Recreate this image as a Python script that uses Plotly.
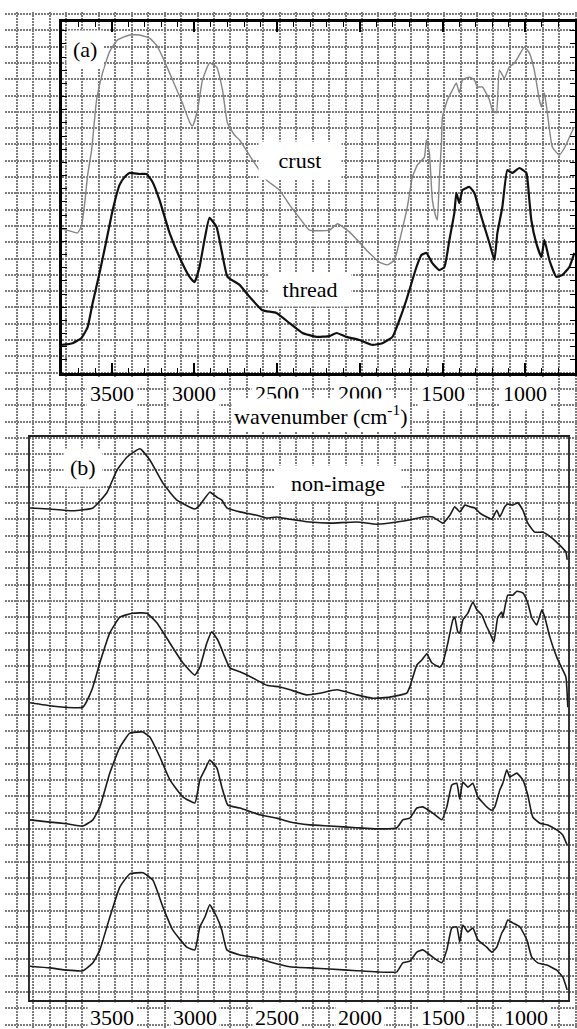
import plotly.graph_objects as go

# ---------------- Panel (a): crust and thread spectra ----------------
crust_wn = [3800, 3754, 3706, 3682, 3664, 3645, 3621, 3591, 3555, 3513,
            3464, 3392, 3331, 3271, 3229, 3192, 3132, 3072, 3029, 3011,
            2981, 2951, 2909, 2866, 2830, 2800, 2758, 2727, 2649, 2564,
            2486, 2425, 2365, 2305, 2184, 2135, 2063, 1960, 1882, 1834,
            1791, 1749, 1713, 1683, 1652, 1610, 1598, 1580, 1562, 1544,
            1532, 1520, 1507, 1501, 1471, 1441, 1417, 1399, 1380, 1338,
            1308, 1290, 1260, 1217, 1199, 1175, 1157, 1127, 1097, 1066,
            1036, 1006, 976, 946, 915, 903, 885, 867, 837, 795,
            764, 722, 704]
crust_t = [41.0, 40.5, 39.9, 41.9, 47.9, 56.4, 63.5, 77.8, 85.5, 91.5,
           94.9, 96.3, 96.3, 95.4, 93.4, 90.0, 83.5, 76.9, 71.5, 70.4,
           74.9, 83.5, 88.3, 87.2, 80.6, 71.2, 67.8, 66.4, 60.7, 55.0,
           52.1, 47.9, 44.2, 40.7, 40.7, 42.5, 40.2, 35.0, 31.6, 30.8,
           32.2, 39.9, 47.3, 55.8, 59.3, 61.5, 66.4, 62.7, 49.3, 45.0,
           43.6, 55.0, 65.5, 72.9, 77.8, 80.6, 82.6, 79.8, 83.5, 84.3,
           83.5, 81.5, 81.5, 77.8, 74.9, 74.1, 86.3, 84.0, 87.2, 88.3,
           90.6, 92.9, 91.2, 86.3, 77.8, 75.8, 79.8, 74.1, 64.4, 62.1,
           64.1, 68.4, 70.1]

thread_wn = [3800, 3736, 3682, 3645, 3615, 3573, 3531, 3494, 3452, 3422,
             3392, 3331, 3289, 3253, 3211, 3150, 3090, 3029, 2999, 2969,
             2939, 2909, 2866, 2836, 2800, 2727, 2667, 2589, 2504, 2425,
             2347, 2262, 2184, 2141, 2081, 2003, 1924, 1864, 1803, 1761,
             1719, 1658, 1628, 1598, 1562, 1520, 1489, 1459, 1429, 1417,
             1399, 1380, 1338, 1308, 1290, 1260, 1217, 1187, 1169, 1139,
             1109, 1079, 1036, 994, 976, 964, 934, 903, 885, 855,
             813, 777, 734, 704]
thread_t = [8.0, 8.5, 10.0, 13.1, 19.9, 28.5, 37.9, 46.4, 53.6, 55.8,
            57.0, 56.7, 56.7, 54.4, 49.3, 39.9, 33.0, 27.4, 25.9, 30.2,
            37.9, 44.2, 41.6, 35.0, 27.4, 25.1, 21.7, 17.9, 17.1, 14.2,
            11.4, 10.3, 10.5, 11.4, 10.3, 9.4, 8.0, 8.5, 10.3, 15.1,
            20.8, 30.2, 33.6, 34.2, 31.3, 29.3, 30.2, 37.9, 45.6, 51.3,
            48.4, 52.1, 53.0, 51.3, 48.4, 43.6, 37.0, 32.2, 39.9, 47.3,
            57.8, 57.0, 58.4, 57.0, 49.3, 43.6, 37.0, 33.0, 37.9, 32.2,
            27.4, 27.9, 30.2, 34.2]

# ---------------- Panel (b): four stacked spectra ----------------
b1_wn = [3995, 3875, 3736, 3615, 3531, 3470, 3410, 3331, 3271, 3192,
         3108, 2999, 2969, 2909, 2866, 2836, 2806, 2727, 2625, 2564,
         2504, 2425, 2305, 2184, 2021, 1900, 1779, 1683, 1622, 1562,
         1501, 1459, 1429, 1399, 1368, 1338, 1308, 1278, 1236, 1205,
         1175, 1157, 1127, 1109, 1079, 1048, 1018, 988, 946, 897,
         843, 795, 758, 750]
b1_t = [87.4, 87.2, 86.9, 87.4, 90.1, 94.1, 96.4, 97.9, 95.9, 91.8,
        88.8, 87.2, 87.9, 90.2, 89.3, 88.8, 87.4, 86.7, 86.1, 85.6,
        85.8, 85.4, 84.9, 84.7, 84.9, 84.5, 84.9, 85.4, 85.8, 85.8,
        84.7, 86.1, 87.6, 86.7, 87.9, 87.6, 87.4, 86.5, 85.8, 85.4,
        87.0, 85.8, 87.6, 88.1, 87.9, 88.3, 87.0, 84.7, 83.1, 83.1,
        82.1, 80.8, 79.6, 78.2]

b2_wn = [3995, 3857, 3676, 3621, 3573, 3513, 3452, 3374, 3289, 3229,
         3150, 3072, 2999, 2969, 2927, 2897, 2860, 2818, 2788, 2727,
         2649, 2564, 2486, 2425, 2323, 2244, 2141, 2021, 1924, 1821,
         1719, 1701, 1658, 1628, 1598, 1568, 1520, 1501, 1471, 1441,
         1429, 1411, 1399, 1380, 1350, 1320, 1296, 1266, 1236, 1217,
         1193, 1169, 1145, 1139, 1109, 1079, 1054, 1018, 988, 964,
         934, 903, 885, 855, 813, 783, 758, 746]
b2_t = [52.8, 52.2, 52.0, 55.1, 59.9, 65.2, 68.0, 68.7, 68.7, 67.0,
        63.4, 59.9, 57.7, 59.1, 63.4, 65.4, 63.9, 60.9, 59.0, 58.3,
        57.2, 55.9, 55.6, 55.1, 54.2, 54.5, 55.1, 54.2, 53.6, 53.8,
        54.5, 55.6, 59.5, 60.4, 61.5, 59.9, 59.1, 59.9, 63.4, 67.5,
        68.0, 65.4, 65.2, 67.5, 68.7, 70.7, 69.3, 68.4, 66.3, 65.2,
        63.6, 68.0, 68.9, 67.9, 71.9, 71.9, 72.6, 72.3, 70.5, 67.9,
        66.6, 69.3, 68.0, 64.5, 60.9, 59.0, 57.4, 52.0]

b3_wn = [3995, 3875, 3772, 3676, 3615, 3573, 3513, 3452, 3392, 3313,
         3271, 3211, 3150, 3072, 2999, 2969, 2939, 2909, 2866, 2836,
         2800, 2727, 2607, 2504, 2425, 2305, 2184, 2021, 1900, 1779,
         1743, 1701, 1658, 1622, 1562, 1507, 1477, 1447, 1417, 1399,
         1380, 1350, 1320, 1290, 1236, 1205, 1187, 1157, 1139, 1115,
         1097, 1054, 1018, 988, 958, 915, 867, 813, 777, 750]
b3_t = [32.0, 31.6, 31.3, 30.9, 32.0, 34.3, 40.3, 44.9, 47.4, 47.6,
        46.7, 43.2, 39.1, 36.1, 35.0, 39.1, 40.9, 42.6, 41.2, 37.8,
        34.6, 34.1, 32.9, 32.3, 31.6, 31.1, 30.9, 30.6, 30.4, 30.6,
        32.0, 32.3, 34.1, 34.3, 33.2, 32.0, 34.3, 38.2, 38.5, 35.7,
        38.7, 37.8, 38.5, 36.1, 34.3, 33.7, 34.3, 37.3, 38.5, 40.9,
        39.6, 40.3, 39.1, 36.4, 32.5, 31.4, 31.1, 30.2, 29.3, 27.5]

b4_wn = [3995, 3875, 3772, 3676, 3615, 3573, 3513, 3452, 3392, 3313,
         3253, 3192, 3132, 3048, 2999, 2969, 2939, 2909, 2866, 2836,
         2806, 2727, 2625, 2528, 2425, 2305, 2184, 2021, 1900, 1779,
         1743, 1701, 1658, 1622, 1562, 1507, 1477, 1447, 1417, 1399,
         1380, 1350, 1320, 1290, 1236, 1205, 1175, 1145, 1127, 1109,
         1079, 1036, 994, 964, 928, 873, 813, 777, 750]
b4_t = [6.0, 5.7, 5.3, 5.2, 6.6, 8.9, 14.7, 20.1, 22.4, 22.6,
        21.3, 16.5, 12.4, 9.4, 8.9, 13.0, 14.7, 16.9, 14.7, 12.4,
        8.9, 8.0, 7.5, 6.6, 5.9, 5.7, 5.5, 5.2, 5.0, 5.0,
        6.6, 6.9, 8.5, 8.9, 7.6, 6.6, 8.9, 12.8, 13.0, 10.3,
        13.3, 12.1, 12.8, 10.7, 9.4, 8.5, 9.4, 11.9, 12.8, 14.2,
        13.7, 13.0, 10.7, 7.6, 6.6, 6.2, 5.3, 4.1, 1.8]

tick_values = [3500, 3000, 2500, 2000, 1500, 1000]
tick_labels = ["3500", "3000", "2500", "2000", "1500", "1000"]

W, H = 577, 1029
SERIF = "Liberation Serif, Times New Roman, serif"


def px_x(p):
    return p / W


def px_y(p):
    return 1 - p / H


fig = go.Figure()

# graph-paper backdrop lives on its own full-page axis pair
fig.add_trace(go.Scatter(x=[0], y=[0], xaxis="x", yaxis="y", mode="markers",
                         marker=dict(size=1, opacity=0), showlegend=False,
                         hoverinfo="skip"))

line_kw = dict(mode="lines", showlegend=False, hoverinfo="skip",
               line_shape="spline")
fig.add_trace(go.Scatter(x=crust_wn, y=crust_t, xaxis="x2", yaxis="y2",
                         line=dict(color="#858585", width=1.4, smoothing=0.4),
                         **line_kw))
fig.add_trace(go.Scatter(x=thread_wn, y=thread_t, xaxis="x2", yaxis="y2",
                         line=dict(color="#111111", width=2.2, smoothing=0.4),
                         **line_kw))
for wn, t in [(b1_wn, b1_t), (b2_wn, b2_t), (b3_wn, b3_t), (b4_wn, b4_t)]:
    fig.add_trace(go.Scatter(x=wn, y=t, xaxis="x3", yaxis="y3",
                             line=dict(color="#1c1c1c", width=1.6, smoothing=0.4),
                             **line_kw))

grid_kw = dict(showgrid=True, gridcolor="#7c7c7c", gridwidth=1.6,
               griddash="2px,1px", showticklabels=False, ticks="",
               zeroline=False, showline=False, fixedrange=True)
blank_kw = dict(showgrid=False, zeroline=False, showticklabels=False,
                fixedrange=True)

fig.update_layout(
    width=W, height=H,
    margin=dict(l=0, r=0, t=0, b=0),
    paper_bgcolor="white",
    plot_bgcolor="rgba(0,0,0,0)",
    xaxis=dict(domain=[px_x(5), 1], range=[5, W], tick0=16.7, dtick=16.44,
               anchor="y", **grid_kw),
    yaxis=dict(domain=[0, px_y(12)], range=[H, 12], tick0=14, dtick=16.3,
               anchor="x", **grid_kw),
    xaxis2=dict(domain=[px_x(62), px_x(575)], range=[3800, 700], anchor="y2",
                showline=True, linecolor="black", linewidth=2.5, mirror="ticks",
                ticks="inside", tickcolor="black", tickwidth=1.5, ticklen=10,
                tick0=1000, dtick=500,
                minor=dict(dtick=100, ticks="inside", ticklen=5,
                           tickcolor="black", tickwidth=1.3),
                **blank_kw),
    yaxis2=dict(domain=[px_y(373), px_y(22)], range=[0, 100], anchor="x2",
                showline=True, linecolor="black", linewidth=2.5, mirror="ticks",
                ticks="inside", tickcolor="black", tickwidth=1.3, ticklen=5,
                tick0=0, dtick=3.75, **blank_kw),
    xaxis3=dict(domain=[px_x(30), px_x(568)], range=[3995, 745], anchor="y3",
                showline=True, linecolor="#222222", linewidth=2, mirror=True,
                ticks="", **blank_kw),
    yaxis3=dict(domain=[px_y(1000), px_y(437)], range=[0, 100], anchor="x3",
                showline=True, linecolor="#333333", linewidth=2, mirror=True,
                ticks="", **blank_kw),
)

font = dict(family=SERIF, size=22, color="black")
box = dict(showarrow=False, bgcolor="white", font=font,
           xanchor="center", yanchor="middle")

# tick labels on white patches, placed through each panel's x-axis
for v, lab in zip(tick_values, tick_labels):
    fig.add_annotation(x=v, xref="x2", y=px_y(393), yref="paper", text=lab,
                       borderpad=3, **box)
    fig.add_annotation(x=v, xref="x3", y=px_y(1017), yref="paper", text=lab,
                       borderpad=2, **box)

fig.add_annotation(x=px_x(320), y=px_y(415), xref="paper", yref="paper",
                   text="wavenumber (cm<sup>-1</sup>)", borderpad=2, **box)
fig.add_annotation(x=px_x(85), y=px_y(49), xref="paper", yref="paper",
                   text="(a)", borderpad=6, **box)
fig.add_annotation(x=px_x(83), y=px_y(467), xref="paper", yref="paper",
                   text="(b)", borderpad=6, **box)
fig.add_annotation(x=px_x(300), y=px_y(160), xref="paper", yref="paper",
                   text="crust", borderpad=6, width=70, **box)
fig.add_annotation(x=px_x(310), y=px_y(290), xref="paper", yref="paper",
                   text="thread", borderpad=4, width=74, **box)
fig.add_annotation(x=px_x(338), y=px_y(483), xref="paper", yref="paper",
                   text="non-image", borderpad=5, width=116, **box)

fig.write_html("out.html")
